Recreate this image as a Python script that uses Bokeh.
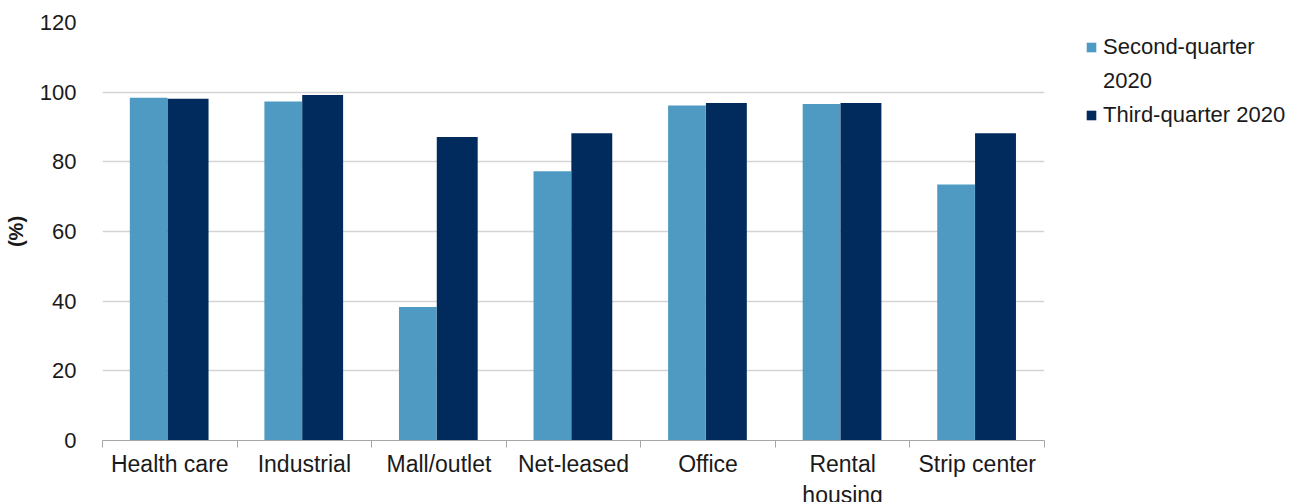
from bokeh.plotting import figure
from bokeh.models import ColumnDataSource, FixedTicker, Legend, LegendItem, Range1d
from bokeh.embed import file_html
from bokeh.resources import INLINE

categories = ["Health care", "Industrial", "Mall/outlet", "Net-leased", "Office", "Rental\nhousing", "Strip center"]
q2_2020 = [98.4, 97.3, 38.3, 77.3, 96.2, 96.6, 73.5]
q3_2020 = [98.1, 99.2, 87.1, 88.2, 96.9, 96.9, 88.2]
series_names = ["Second-quarter", "2020", "Third-quarter 2020"]
y_ticks = [0, 20, 40, 60, 80, 100, 120]

FONT = "Liberation Sans"
C_Q2 = "#4F9AC3"
C_Q3 = "#002B5C"

n = len(categories)
centers = [i + 0.5 for i in range(n)]
bounds = [i for i in range(n + 1)]

src = ColumnDataSource(dict(
    x2=[c - 0.157 for c in centers],
    x3=[c + 0.136 for c in centers],
    q2=q2_2020, q3=q3_2020,
))

p = figure(frame_width=942, frame_height=418, output_backend="svg", toolbar_location=None,
           x_range=Range1d(0, n), y_range=Range1d(0, 120),
           min_border_left=102, min_border_top=22, min_border_bottom=62, min_border_right=249)
p.outline_line_color = None
p.background_fill_color = "white"

r2 = p.vbar(x="x2", top="q2", width=0.28, source=src, fill_color=C_Q2, line_color=None)
r3 = p.vbar(x="x3", top="q3", width=0.304, source=src, fill_color=C_Q3, line_color=None)
# invisible renderer used only for the wrapped second legend line
r_blank = p.vbar(x=[], top=[], width=0.3, fill_alpha=0, line_alpha=0)

# x axis
p.xaxis.ticker = FixedTicker(ticks=centers, minor_ticks=bounds)
p.xaxis.major_label_overrides = {c: lab for c, lab in zip(centers, categories)}
p.xaxis.major_tick_out = 0
p.xaxis.major_tick_in = 0
p.xaxis.minor_tick_out = 7
p.xaxis.minor_tick_in = 0
p.xaxis.minor_tick_line_color = "#A6A6A6"
p.xaxis.axis_line_color = "#A6A6A6"
p.xaxis.major_label_text_font = FONT
p.xaxis.major_label_text_font_size = "23px"
p.xaxis.major_label_text_color = "#1a1a1a"
p.xaxis.major_label_standoff = 3
p.xgrid.grid_line_color = None

# y axis
p.yaxis.ticker = FixedTicker(ticks=y_ticks)
p.yaxis.axis_line_color = None
p.yaxis.major_tick_line_color = None
p.yaxis.minor_tick_line_color = None
p.yaxis.major_label_text_font = FONT
p.yaxis.major_label_text_font_size = "22px"
p.yaxis.major_label_text_color = "#1a1a1a"
p.yaxis.major_label_standoff = 20
p.yaxis.axis_label = "(%)"
p.yaxis.axis_label_text_font = FONT
p.yaxis.axis_label_text_font_size = "20px"
p.yaxis.axis_label_text_font_style = "bold"
p.yaxis.axis_label_text_color = "#1a1a1a"
p.yaxis.axis_label_standoff = 10
p.ygrid.grid_line_color = "#D4D4D4"
p.ygrid.grid_line_width = 1.5

legend = Legend(items=[LegendItem(label=series_names[0], renderers=[r2]),
                       LegendItem(label=series_names[1], renderers=[r_blank]),
                       LegendItem(label=series_names[2], renderers=[r3])],
                location=(41, 312), orientation="vertical")
legend.border_line_color = None
legend.background_fill_alpha = 0
legend.padding = 0
legend.margin = 0
legend.glyph_width = 12
legend.glyph_height = 12
legend.label_text_font = FONT
legend.label_text_font_size = "22px"
legend.label_text_color = "#1a1a1a"
legend.label_standoff = 6
legend.spacing = 8
p.add_layout(legend, "right")

open("out.html", "w").write(file_html(p, INLINE))
